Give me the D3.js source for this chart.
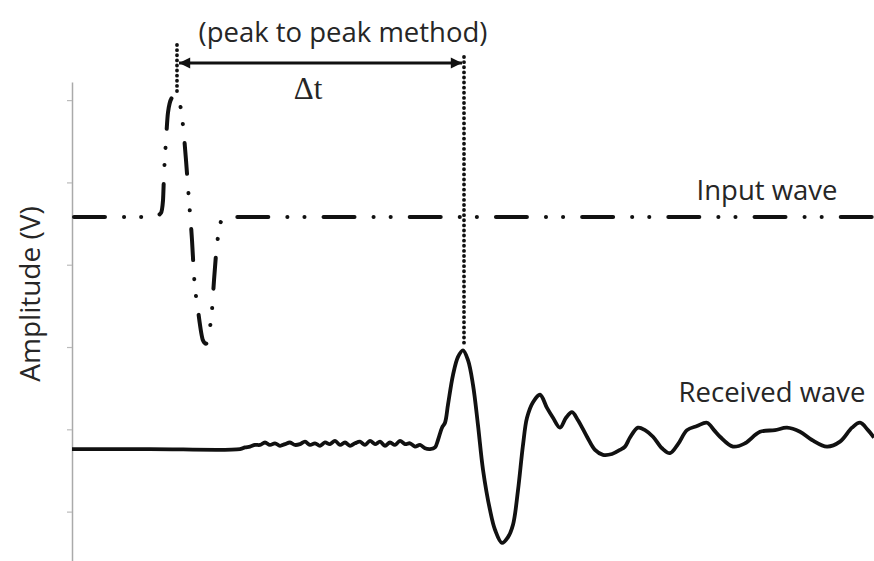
<!DOCTYPE html>
<html>
<head>
<meta charset="utf-8">
<script src="https://cdn.jsdelivr.net/npm/d3@7"></script>
<style>
  body { margin: 0; background: #fff; }
  text { font-family: "Open Sans", "Noto Sans", sans-serif; fill: #262626; }
</style>
</head>
<body>
<div id="chart"></div>
<script>
// time (arbitrary units) and amplitude (V)
const inputTime = [0, 78, 84, 89, 91, 92, 94, 96, 100, 104, 108, 111, 114, 117, 120, 122, 126, 131, 134, 137, 140, 142, 144, 147, 150, 155, 802];
const inputAmp  = [1.58, 1.58, 1.59, 1.63, 1.78, 2.09, 2.51, 2.85, 3.03, 3.06, 2.95, 2.69, 2.27, 1.78, 1.30, 0.87, 0.45, 0.08, 0.04, 0.17, 0.45, 0.81, 1.12, 1.42, 1.55, 1.58, 1.58];

const receivedTime = [0, 78, 168, 173, 178, 183, 188, 193, 198, 203, 208, 213, 218, 223, 228, 233, 238, 243, 248, 253, 258, 263, 268, 273, 278, 283, 288, 293, 298, 303, 308, 313, 318, 323, 328, 333, 338, 343, 348, 353, 358, 363, 366, 370, 373, 376, 381, 386, 391, 396, 401, 406, 411, 418, 423, 430, 436, 441, 446, 451, 455, 461, 468, 475, 481, 488, 494, 500, 506, 515, 523, 531, 540, 548, 553, 558, 566, 573, 581, 590, 598, 606, 615, 625, 635, 642, 648, 661, 673, 688, 703, 715, 728, 740, 755, 768, 780, 788, 796, 802];
const receivedAmp  = [-1.24, -1.24, -1.24, -1.22, -1.21, -1.19, -1.19, -1.16, -1.19, -1.17, -1.20, -1.18, -1.16, -1.19, -1.18, -1.15, -1.19, -1.17, -1.20, -1.16, -1.18, -1.14, -1.19, -1.16, -1.20, -1.17, -1.15, -1.19, -1.14, -1.18, -1.15, -1.20, -1.16, -1.19, -1.14, -1.18, -1.17, -1.21, -1.19, -1.23, -1.24, -1.22, -1.13, -0.98, -0.92, -0.70, -0.34, -0.12, -0.04, -0.16, -0.46, -0.95, -1.49, -1.98, -2.22, -2.38, -2.31, -2.16, -1.74, -1.19, -0.86, -0.67, -0.58, -0.74, -0.86, -0.98, -0.86, -0.79, -0.89, -1.09, -1.25, -1.31, -1.30, -1.25, -1.21, -1.10, -0.98, -1.01, -1.09, -1.23, -1.29, -1.18, -1.01, -0.96, -0.92, -1.01, -1.09, -1.21, -1.17, -1.03, -1.01, -0.98, -1.03, -1.13, -1.21, -1.15, -0.98, -0.92, -1.01, -1.10];

const ampTicks = [-2, -1, 0, 1, 2, 3];
const peakTimes = [104, 391];   // input peak, received peak
const peakAmps  = [3.06, -0.04];

const width = 874, height = 561;

const svg = d3.select("#chart").append("svg")
    .attr("width", width)
    .attr("height", height);

const x = d3.scaleLinear().domain([0, 802]).range([72, 874]);
const y = d3.scaleLinear().domain([-2.6, 3.22]).range([561, 82]);

// y axis, no labels
const yAxis = svg.append("g")
    .attr("transform", `translate(${x(0)},0)`)
    .call(d3.axisLeft(y).tickValues(ampTicks).tickSize(5).tickSizeOuter(0).tickFormat(""));
yAxis.select(".domain").attr("stroke", "#aaa").attr("stroke-width", 1.5);
yAxis.selectAll(".tick line").attr("stroke", "#bbb").attr("stroke-width", 1.2);

const line = d3.line()
    .x(d => x(d[0]))
    .y(d => y(d[1]));

// received wave
svg.append("path")
    .datum(d3.zip(receivedTime, receivedAmp))
    .attr("fill", "none")
    .attr("stroke", "#111")
    .attr("stroke-width", 3.8)
    .attr("stroke-linejoin", "round")
    .attr("d", line.curve(d3.curveCatmullRom.alpha(0.5)));

// input wave, dash-dot-dot
svg.append("path")
    .datum(d3.zip(inputTime, inputAmp))
    .attr("fill", "none")
    .attr("stroke", "#111")
    .attr("stroke-width", 4)
    .attr("stroke-linecap", "round")
    .attr("stroke-dasharray", "31,19,0.1,17,0.1,19")
    .attr("stroke-dashoffset", -2)
    .attr("d", line.curve(d3.curveMonotoneX));

// dotted guide lines from the peaks
const guideTop = [45, 57];
peakTimes.forEach((t, i) => {
    svg.append("line")
        .attr("x1", x(t) + 1).attr("x2", x(t) + 1)
        .attr("y1", guideTop[i])
        .attr("y2", y(peakAmps[i]) - 3)
        .attr("stroke", "#111")
        .attr("stroke-width", 3.8)
        .attr("stroke-linecap", "round")
        .attr("stroke-dasharray", "0.1,5");
});

// double arrow for delta t
const defs = svg.append("defs");
defs.append("marker")
    .attr("id", "arr")
    .attr("viewBox", "0 0 10 10")
    .attr("refX", 10).attr("refY", 5)
    .attr("markerWidth", 5).attr("markerHeight", 4)
    .attr("markerUnits", "strokeWidth")
    .attr("orient", "auto-start-reverse")
    .append("path")
    .attr("d", "M0,0L10,5L0,10z")
    .attr("fill", "#111");

svg.append("line")
    .attr("x1", x(peakTimes[0]) + 3).attr("x2", x(peakTimes[1]) - 1)
    .attr("y1", 63).attr("y2", 63)
    .attr("stroke", "#111")
    .attr("stroke-width", 2.8)
    .attr("marker-start", "url(#arr)")
    .attr("marker-end", "url(#arr)");

// texts
svg.append("text")
    .attr("x", 343).attr("y", 42)
    .attr("text-anchor", "middle")
    .style("font-size", "27.5px")
    .text("(peak to peak method)");

svg.append("text")
    .attr("x", 308).attr("y", 99)
    .attr("text-anchor", "middle")
    .style("font-family", "'Liberation Serif', serif")
    .style("font-size", "31px")
    .text("Δt");

svg.append("text")
    .attr("x", 767).attr("y", 200)
    .attr("text-anchor", "middle")
    .style("font-size", "27.5px")
    .text("Input wave");

svg.append("text")
    .attr("x", 772).attr("y", 402)
    .attr("text-anchor", "middle")
    .style("font-size", "27.5px")
    .text("Received wave");

svg.append("text")
    .attr("transform", "translate(40,294) rotate(-90)")
    .attr("text-anchor", "middle")
    .style("font-size", "28px")
    .text("Amplitude (V)");
</script>
</body>
</html>
